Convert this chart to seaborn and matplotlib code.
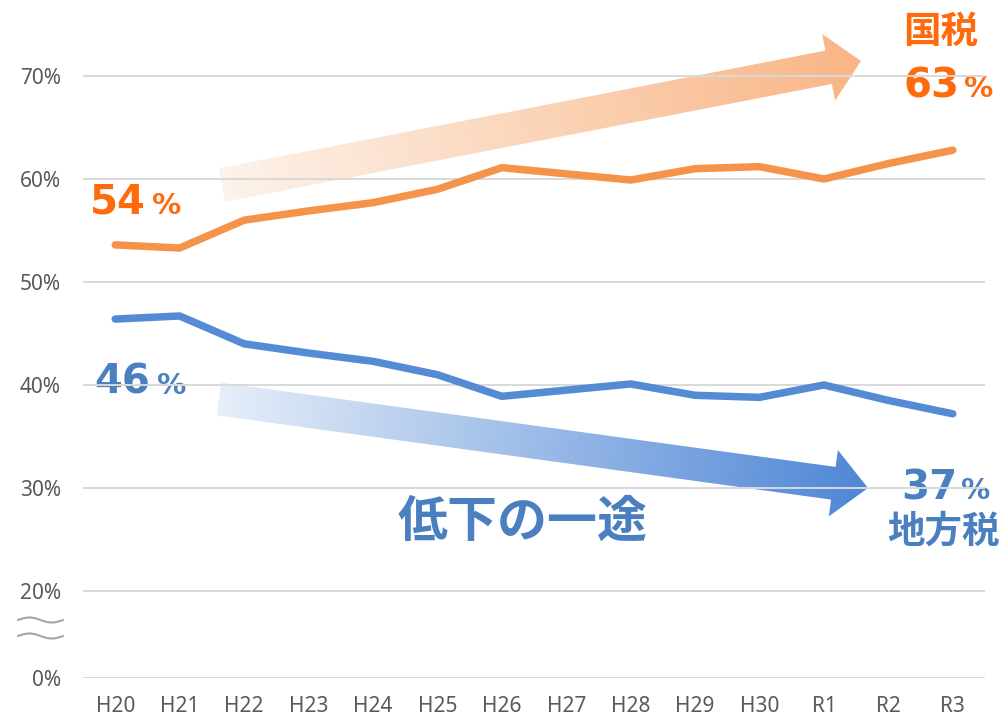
import numpy as np
import pandas as pd
import matplotlib
matplotlib.use("Agg")
import matplotlib.pyplot as plt
from matplotlib.patches import Polygon
from matplotlib.colors import to_rgb
import seaborn as sns

# ---------------------------------------------------------
# data
# ---------------------------------------------------------
years = ["H20", "H21", "H22", "H23", "H24", "H25", "H26",
         "H27", "H28", "H29", "H30", "R1", "R2", "R3"]
national_tax = [53.6, 53.3, 56.0, 56.9, 57.7, 59.0, 61.1,
                60.5, 59.9, 61.0, 61.2, 60.0, 61.5, 62.8]
local_tax = [46.4, 46.7, 44.0, 43.1, 42.3, 41.0, 38.9,
             39.5, 40.1, 39.0, 38.8, 40.0, 38.5, 37.2]

# axis is broken between 0% and 20%: "0%" sits at this position
BREAK_POS = 11.55
ytick_pos = [BREAK_POS, 20, 30, 40, 50, 60, 70]
ytick_labels = ["0%", "20%", "30%", "40%", "50%", "60%", "70%"]

ORANGE = "#F5934A"
BLUE = "#558BD5"
ORANGE_TXT = "#FF6A0D"
BLUE_TXT = "#4A7FC0"
GRAY_TXT = "#595959"

sns.set_theme(style="white")
plt.rcParams["font.family"] = ["Noto Sans", "Noto Sans CJK JP", "DejaVu Sans"]

df = pd.DataFrame({"pos": np.arange(len(years)),
                   "national": national_tax,
                   "local": local_tax})

W, H = 1004, 718
fig = plt.figure(figsize=(W / 100, H / 100), dpi=100)
ax = fig.add_axes([83 / W, 40 / H, 902 / W, 678 / H])

sns.lineplot(data=df, x="pos", y="national", color=ORANGE, lw=5.4,
             solid_capstyle="round", ax=ax, zorder=3)
sns.lineplot(data=df, x="pos", y="local", color=BLUE, lw=5.4,
             solid_capstyle="round", ax=ax, zorder=3)

ax.set_xlim(-0.5, len(years) - 0.5)
ax.set_ylim(BREAK_POS, 77.38)
ax.set_xticks(df["pos"])
ax.set_xticklabels(years)
ax.set_yticks(ytick_pos)
ax.set_yticklabels(ytick_labels)
ax.set_xlabel("")
ax.set_ylabel("")
ax.grid(axis="y", color="#D9D9D9", lw=1.4)
ax.grid(axis="x", visible=False)
ax.tick_params(axis="y", length=0, pad=16, labelsize=15, labelcolor=GRAY_TXT)
ax.tick_params(axis="x", length=0, pad=13, labelsize=15, labelcolor=GRAY_TXT)
sns.despine(ax=ax, left=True, bottom=True)
ax.patch.set_alpha(0)

# ---------------------------------------------------------
# decorations in pixel space: gradient arrows, labels, axis break
# ---------------------------------------------------------
deco = fig.add_axes([0, 0, 1, 1], zorder=0)
deco.set_xlim(0, W)
deco.set_ylim(H, 0)
deco.axis("off")
deco.patch.set_alpha(0)
ax.set_zorder(1)


def gradient_arrow(tail, tip, shaft_w, head_w, head_len, c0, c1):
    tail = np.array(tail, float)
    tip = np.array(tip, float)
    d = tip - tail
    u = d / np.linalg.norm(d)
    n = np.array([-u[1], u[0]])
    base = tip - u * head_len
    pts = [tail + n * shaft_w / 2, base + n * shaft_w / 2, base + n * head_w / 2,
           tip, base - n * head_w / 2, base - n * shaft_w / 2, tail - n * shaft_w / 2]
    pts = np.array(pts)
    poly = Polygon(pts, closed=True, fc="none", ec="none")
    deco.add_patch(poly)
    x0, y0 = pts.min(axis=0)
    x1, y1 = pts.max(axis=0)
    xs = np.linspace(x0, x1, int(x1 - x0) + 1)
    ys = np.linspace(y0, y1, int(y1 - y0) + 1)
    gx, gy = np.meshgrid(xs, ys)
    t = ((gx - tail[0]) * u[0] + (gy - tail[1]) * u[1]) / np.linalg.norm(d)
    t = np.clip(t, 0, 1)[..., None]
    img = (1 - t) * np.array(to_rgb(c0)) + t * np.array(to_rgb(c1))
    im = deco.imshow(img, extent=(x0, x1, y1, y0), origin="upper",
                     aspect="auto", interpolation="bilinear")
    im.set_clip_path(poly)


gradient_arrow((222, 185), (861, 61), 34, 68, 33, "#FDF3EB", "#F9B585")
gradient_arrow((219, 399), (868, 488), 33, 67, 35, "#E6EEF9", "#4E86D6")
deco.set_xlim(0, W)
deco.set_ylim(H, 0)

num_kw = dict(family="DejaVu Sans", fontweight="bold", ha="left", va="baseline")
jp_kw = dict(family=["Noto Sans CJK JP", "DejaVu Sans"], fontweight="bold",
             ha="center", va="center")

# 国税
deco.text(90, 214, "54", color=ORANGE_TXT, fontsize=29, **num_kw)
deco.text(152, 214, "%", color=ORANGE_TXT, fontsize=21, **num_kw)
deco.text(941, 31, "国税", color=ORANGE_TXT, fontsize=27, **jp_kw)
deco.text(904, 97, "63", color=ORANGE_TXT, fontsize=29, **num_kw)
deco.text(964, 97, "%", color=ORANGE_TXT, fontsize=21, **num_kw)

# 地方税
deco.text(94, 394, "46", color=BLUE_TXT, fontsize=29, **num_kw)
deco.text(157, 394, "%", color=BLUE_TXT, fontsize=21, **num_kw)
deco.text(901, 499, "37", color=BLUE_TXT, fontsize=29, **num_kw)
deco.text(961, 499, "%", color=BLUE_TXT, fontsize=21, **num_kw)
deco.text(943, 531, "地方税", color=BLUE_TXT, fontsize=27, **jp_kw)
deco.text(523, 522, "低下の一途", color=BLUE_TXT, fontsize=36, **jp_kw)

# axis break marks
wx = np.linspace(18, 63, 60)
for y0 in (620, 636):
    wy = y0 - 2.5 * np.sin((wx - 18) / 45 * 2 * np.pi)
    deco.plot(wx, wy, color="#A6A6A6", lw=1.5)

fig.savefig("out.png", dpi=100)
